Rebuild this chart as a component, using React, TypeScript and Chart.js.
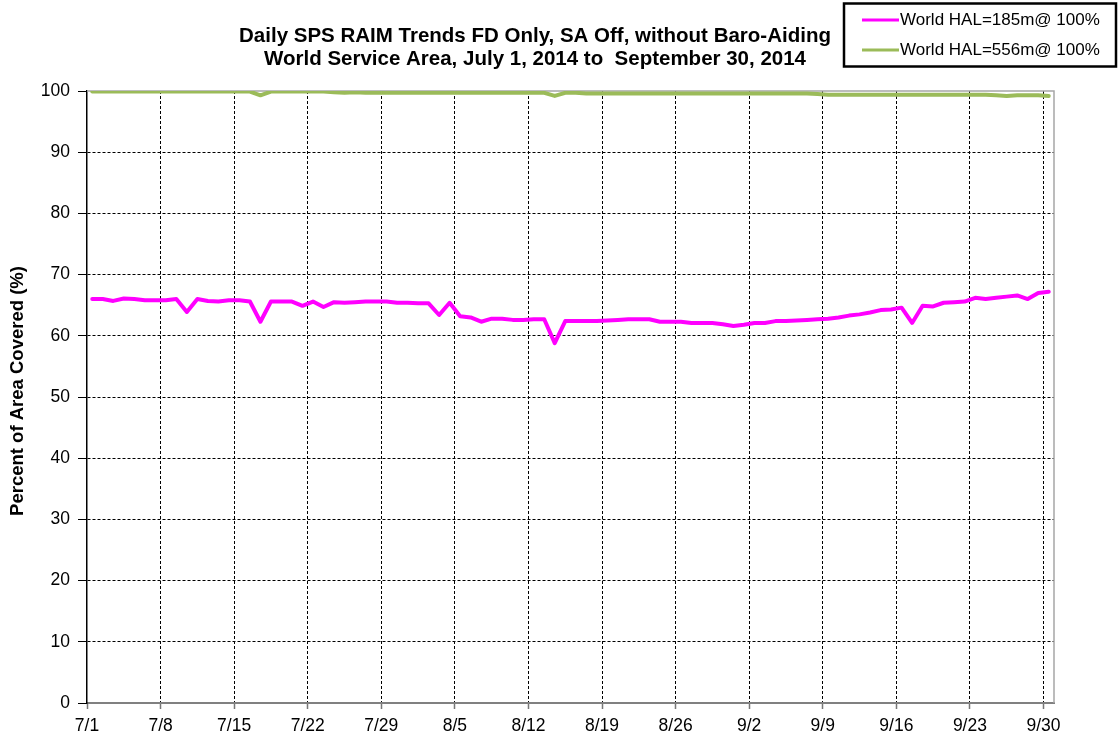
import React, { useEffect, useRef } from 'react';
import { Chart, registerables } from 'chart.js';

Chart.register(...registerables);

// Chart text
const TITLE_LINES = [
  'Daily SPS RAIM Trends FD Only, SA Off, without Baro-Aiding',
  'World Service Area, July 1, 2014 to  September 30, 2014',
];
const Y_TITLE = 'Percent of Area Covered (%)';
const SERIES_NAMES = ['World HAL=185m@ 100%', 'World HAL=556m@ 100%'];
const SERIES_COLORS = ['#ff00ff', '#9bbb59'];

// X axis: days since July 1, 2014, labelled weekly
const TICK_DAYS = [0, 7, 14, 21, 28, 35, 42, 49, 56, 63, 70, 77, 84, 91];
const TICK_LABELS = ['7/1', '7/8', '7/15', '7/22', '7/29', '8/5', '8/12', '8/19', '8/26', '9/2', '9/9', '9/16', '9/23', '9/30'];
const Y_TICKS = [0, 10, 20, 30, 40, 50, 60, 70, 80, 90, 100];

// Daily coverage (%), July 1 .. September 30
const HAL185 = [
  66.0, 66.0, 65.7, 66.1, 66.0, 65.8, 65.8, 65.8, 66.0, 63.9,
  66.0, 65.7, 65.6, 65.8, 65.8, 65.6, 62.3, 65.6, 65.6, 65.6,
  64.9, 65.6, 64.7, 65.5, 65.4, 65.5, 65.6, 65.6, 65.6, 65.4,
  65.4, 65.3, 65.3, 63.4, 65.4, 63.2, 63.0, 62.3, 62.8, 62.8,
  62.6, 62.6, 62.7, 62.7, 58.8, 62.4, 62.4, 62.4, 62.4, 62.5,
  62.6, 62.7, 62.7, 62.7, 62.3, 62.3, 62.3, 62.1, 62.1, 62.1,
  61.9, 61.6, 61.8, 62.1, 62.1, 62.4, 62.4, 62.5, 62.6, 62.7,
  62.8, 63.0, 63.3, 63.5, 63.8, 64.2, 64.3, 64.6, 62.1, 64.9,
  64.8, 65.4, 65.5, 65.6, 66.2, 66.0, 66.2, 66.4, 66.6, 66.0,
  67.0, 67.2,
];
const HAL556 = [
  99.9, 99.9, 99.9, 99.9, 99.9, 99.9, 99.9, 99.9, 99.9, 99.9,
  99.9, 99.9, 99.9, 99.9, 99.9, 99.9, 99.3, 99.9, 99.9, 99.9,
  99.9, 99.9, 99.9, 99.8, 99.7, 99.8, 99.7, 99.7, 99.7, 99.7,
  99.7, 99.7, 99.7, 99.7, 99.7, 99.7, 99.7, 99.7, 99.7, 99.7,
  99.7, 99.7, 99.7, 99.7, 99.2, 99.7, 99.7, 99.6, 99.6, 99.6,
  99.6, 99.6, 99.6, 99.6, 99.6, 99.6, 99.6, 99.6, 99.6, 99.6,
  99.6, 99.6, 99.6, 99.6, 99.6, 99.6, 99.6, 99.6, 99.6, 99.5,
  99.4, 99.4, 99.4, 99.4, 99.4, 99.4, 99.4, 99.4, 99.4, 99.4,
  99.4, 99.4, 99.4, 99.4, 99.4, 99.4, 99.3, 99.2, 99.3, 99.3,
  99.3, 99.2,
];

const FONT = '"Liberation Sans", Arial, sans-serif';

// each daily value sits at midday of its date
const toPoints = (values: number[]) => values.map((v, i) => ({ x: i + 0.5, y: v }));

const decorations = {
  id: 'decorations',
  beforeDatasetsDraw(chart: any) {
    const { ctx, chartArea: a } = chart;
    ctx.save();
    ctx.strokeStyle = '#a6a6a6';
    ctx.lineWidth = 1.5;
    ctx.beginPath();
    ctx.moveTo(a.left, a.top);
    ctx.lineTo(a.right, a.top);
    ctx.lineTo(a.right, a.bottom);
    ctx.stroke();
    ctx.restore();
  },
  afterDraw(chart: any) {
    const { ctx } = chart;
    ctx.save();
    ctx.fillStyle = '#000';

    // title
    ctx.font = `bold 20.5px ${FONT}`;
    ctx.textAlign = 'center';
    ctx.textBaseline = 'middle';
    ctx.fillText(TITLE_LINES[0], 535, 36);
    ctx.fillText(TITLE_LINES[1], 535, 59);

    // y axis title
    ctx.save();
    ctx.translate(18, 391);
    ctx.rotate(-Math.PI / 2);
    ctx.font = `bold 18.5px ${FONT}`;
    ctx.fillText(Y_TITLE, 0, 0);
    ctx.restore();

    // legend
    ctx.strokeStyle = '#000';
    ctx.lineWidth = 2.5;
    ctx.strokeRect(844, 3.5, 272, 63);
    ctx.font = `17px ${FONT}`;
    ctx.textAlign = 'left';
    const rows = [20, 50];
    SERIES_NAMES.forEach((name, i) => {
      ctx.strokeStyle = SERIES_COLORS[i];
      ctx.lineWidth = 3;
      ctx.beginPath();
      ctx.moveTo(862, rows[i]);
      ctx.lineTo(899, rows[i]);
      ctx.stroke();
      ctx.fillStyle = '#000';
      ctx.fillText(name, 900, rows[i]);
    });
    ctx.restore();
  },
};

export default function App() {
  const canvasRef = useRef<HTMLCanvasElement>(null);

  useEffect(() => {
    const canvas = canvasRef.current;
    if (!canvas) return;
    const chart = new Chart(canvas, {
      type: 'line',
      data: {
        datasets: [
          {
            label: SERIES_NAMES[0],
            data: toPoints(HAL185),
            borderColor: SERIES_COLORS[0],
            backgroundColor: SERIES_COLORS[0],
            borderWidth: 4,
          },
          {
            label: SERIES_NAMES[1],
            data: toPoints(HAL556),
            borderColor: SERIES_COLORS[1],
            backgroundColor: SERIES_COLORS[1],
            borderWidth: 4,
          },
        ],
      },
      options: {
        animation: false,
        responsive: false,
        layout: { padding: { left: 0, top: 91, right: 64, bottom: 0 } },
        elements: {
          point: { radius: 0 },
          line: { tension: 0, borderJoinStyle: 'round', borderCapStyle: 'round' },
        },
        plugins: {
          legend: { display: false },
          title: { display: false },
          tooltip: { enabled: false },
        },
        scales: {
          x: {
            type: 'linear',
            min: 0,
            max: 92,
            afterBuildTicks: (scale: any) => {
              scale.ticks = TICK_DAYS.map((v) => ({ value: v }));
            },
            afterFit: (scale: any) => {
              scale.height = 35;
              scale.paddingLeft = 0;
              scale.paddingRight = 0;
            },
            ticks: {
              autoSkip: false,
              maxRotation: 0,
              padding: 7,
              color: '#000',
              font: { family: FONT, size: 17.5 },
              callback: (value: any) => {
                const idx = TICK_DAYS.indexOf(Number(value));
                return idx >= 0 ? TICK_LABELS[idx] : '';
              },
            },
            grid: {
              color: (c: any) => (c.tick && c.tick.value === 0 ? 'rgba(0,0,0,0)' : '#000'),
              lineWidth: 1,
              tickLength: 6,
              tickColor: '#777',
              tickWidth: 1.5,
              tickBorderDash: [],
            },
            border: { display: true, color: '#808080', width: 2, dash: [3, 2] },
          },
          y: {
            min: 0,
            max: 100,
            afterBuildTicks: (scale: any) => {
              scale.ticks = Y_TICKS.map((v) => ({ value: v }));
            },
            afterFit: (scale: any) => {
              scale.width = 87;
              scale.paddingTop = 0;
              scale.paddingBottom = 0;
            },
            ticks: {
              padding: 8,
              color: '#000',
              font: { family: FONT, size: 17.5 },
            },
            grid: {
              color: (c: any) =>
                c.tick && (c.tick.value === 0 || c.tick.value === 100) ? 'rgba(0,0,0,0)' : '#000',
              lineWidth: 1,
              tickLength: 9,
              tickColor: '#000',
              tickWidth: 1,
              tickBorderDash: [],
            },
            border: { display: true, color: '#000', width: 1.5, dash: [3, 2] },
          },
        },
      },
      plugins: [decorations],
    } as any);
    return () => chart.destroy();
  }, []);

  return (
    <div style={{ position: 'absolute', left: 0, top: 0, width: 1118, height: 738, background: '#fff' }}>
      <canvas ref={canvasRef} width={1118} height={738} style={{ display: 'block' }} />
    </div>
  );
}
